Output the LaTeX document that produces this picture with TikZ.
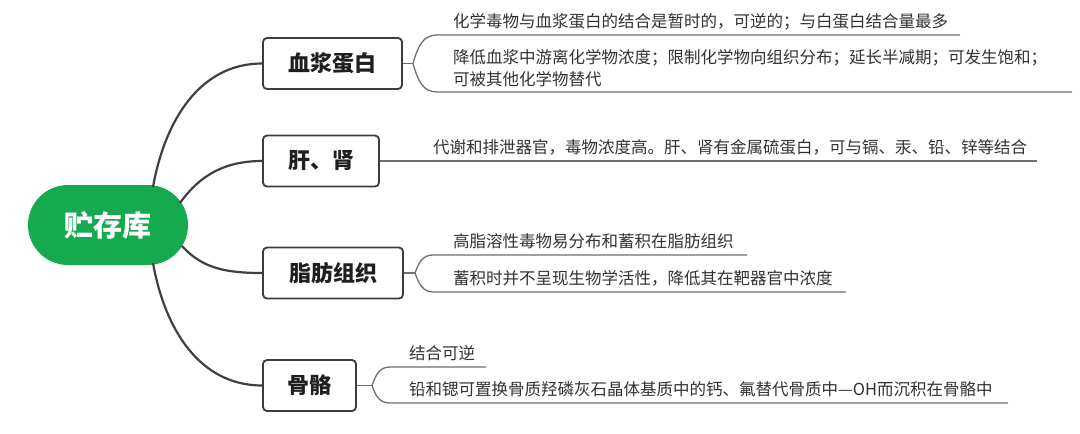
\documentclass[tikz,border=0pt]{standalone}
\usepackage{fontspec}
\setmainfont{Noto Sans CJK SC}
\usetikzlibrary{calc}
\definecolor{rootgreen}{RGB}{22,170,80}
\definecolor{boxc}{RGB}{60,60,60}
\definecolor{conn}{RGB}{64,64,64}
\definecolor{linec}{RGB}{110,110,110}
\definecolor{txt}{RGB}{50,50,50}
\tikzset{
  rootnode/.style={fill=rootgreen, draw=none, rounded corners=40pt, minimum width=160pt, minimum height=80pt, inner sep=0pt, text=white, font=\fontsize{29}{32}\selectfont\bfseries},
  topic/.style={draw=boxc, fill=white, line width=1.8pt, rounded corners=4pt, minimum height=51pt, inner sep=0pt, text=black!88, font=\fontsize{22}{26}\selectfont\bfseries},
  leaf/.style={anchor=west, inner sep=0pt, text=txt, align=left, font=\fontsize{16.5}{22}\selectfont},
  branch/.style={draw=conn, line width=2.2pt},
  uline/.style={draw=linec, line width=1.3pt},
}
\begin{document}
\begin{tikzpicture}[x=1pt,y=-1pt]
\useasboundingbox (0,0) rectangle (1080,434);

% root
\node[rootnode] (root) at (108,225) {贮存库};

% topics
\node[topic, minimum width=139pt] (b1) at (332.5,63.5) {血浆蛋白};
\node[topic, minimum width=116pt] (b2) at (321,161) {肝、肾};
\node[topic, minimum width=140pt] (b3) at (333,273) {脂肪组织};
\node[topic, minimum width=93pt]  (b4) at (309.5,385.5) {骨骼};

% branch start points on the root
\coordinate (s1) at (153,187);
\coordinate (s2) at (180,203);
\coordinate (s3) at (182,246);
\coordinate (s4) at (153,263);

\draw[branch] (s1) .. controls (165,120) and (200,63.5) .. (b1.west);
\draw[branch] (s2) .. controls (200,175) and (225,161) .. (b2.west);
\draw[branch] (s3) .. controls (202,268) and (225,273) .. (b3.west);
\draw[branch] (s4) .. controls (165,330) and (200,385.5) .. (b4.west);

% leaves
\node[leaf] (t11) at (453,22) {化学毒物与血浆蛋白的结合是暂时的，可逆的；与白蛋白结合量最多};
\node[leaf] (t12) at (453,68) {降低血浆中游离化学物浓度；限制化学物向组织分布；延长半减期；可发生饱和；\\可被其他化学物替代};
\node[leaf] (t2) at (433,147) {代谢和排泄器官，毒物浓度高。肝、肾有金属硫蛋白，可与镉、汞、铅、锌等结合};
\node[leaf] (t31) at (453,241) {高脂溶性毒物易分布和蓄积在脂肪组织};
\node[leaf] (t32) at (453,278) {蓄积时并不呈现生物学活性，降低其在靶器官中浓度};
\node[leaf] (t41) at (409,353.5) {结合可逆};
\node[leaf] (t42) at (409,389) {铅和锶可置换骨质羟磷灰石晶体基质中的钙、氟替代骨质中—OH而沉积在骨骼中};

% bracket / underline coordinates
\coordinate (a1) at (413,63.5);
\coordinate (e11) at (960,35);
\coordinate (e12) at (1072,92);
\coordinate (e2) at (1037,161);
\coordinate (a3) at (415,273);
\coordinate (e31) at (747,255);
\coordinate (e32) at (846,292);
\coordinate (a4) at (372,385.5);
\coordinate (e41) at (486,367);
\coordinate (e42) at (1008,403);

% group 1
\draw[uline] (b1.east) -- (a1);
\draw[uline] (a1) .. controls (418,46) and (423,35) .. (437,35) -- (e11);
\draw[uline] (a1) .. controls (418,81) and (423,92) .. (437,92) -- (e12);
% group 2
\draw[uline] (b2.east) -- (e2);
% group 3
\draw[uline] (b3.east) -- (a3);
\draw[uline] (a3) .. controls (419,262) and (423,255) .. (433,255) -- (e31);
\draw[uline] (a3) .. controls (419,284) and (423,292) .. (433,292) -- (e32);
% group 4
\draw[uline] (b4.east) -- (a4);
\draw[uline] (a4) .. controls (376,374) and (380,367) .. (390,367) -- (e41);
\draw[uline] (a4) .. controls (376,397) and (380,403) .. (390,403) -- (e42);
\end{tikzpicture}
\end{document}
